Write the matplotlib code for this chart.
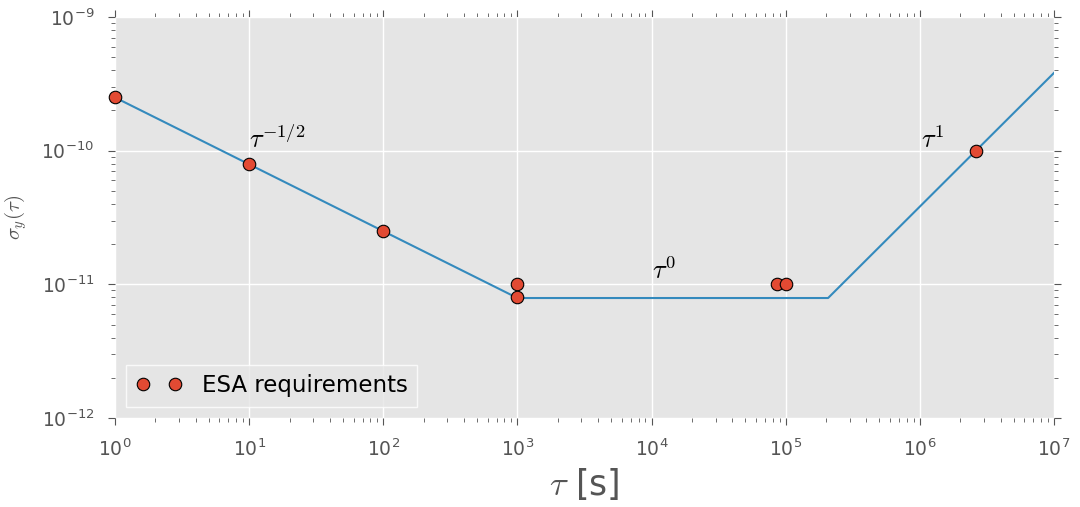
import numpy as np
import matplotlib
matplotlib.use("Agg")
import matplotlib.pyplot as plt

# ESA requirement points
req_tau = [1, 10, 100, 1000, 1000, 86400, 1e5, 2.6e6]
req_sigma = [2.5e-10, 8e-11, 2.5e-11, 1e-11, 8e-12, 1e-11, 1e-11, 1e-10]

# piecewise power-law envelope
line_tau = [1, 1000, 2.07e5, 1e7]
line_sigma = [2.5e-10, 7.9e-12, 7.9e-12, 3.82e-10]

plt.style.use('ggplot')
plt.rcParams['axes.facecolor'] = '#E5E5E5'
plt.rcParams['mathtext.fontset'] = 'cm'
plt.rcParams['axes.unicode_minus'] = False

fig = plt.figure(figsize=(10.8, 5.07), dpi=100)
ax = fig.add_axes([115 / 1080, 1 - 418 / 507, (1054 - 115) / 1080, (418 - 17) / 507])

ax.loglog(line_tau, line_sigma, color='#348ABD', lw=1.5)
ax.plot(req_tau, req_sigma, 'o', color='#E24A33', mec='black', mew=0.8,
        ms=9, label='ESA requirements', clip_on=False, zorder=5)

ax.set_xlim(1, 1e7)
ax.set_ylim(1e-12, 1e-9)

ax.text(10, 1.05e-10, r'$\tau^{-1/2}$', fontsize=19)
ax.text(1e4, 1.1e-11, r'$\tau^{0}$', fontsize=19)
ax.text(1.02e6, 1.05e-10, r'$\tau^{1}$', fontsize=19)

ax.set_xlabel(r'$\tau$ [s]', fontsize=25, color='#555555', labelpad=4)
ax.set_ylabel(r'$\sigma_y(\tau)$', fontsize=15, color='#555555', labelpad=9)

ax.grid(True, which='major', color='white', lw=1)
ax.set_axisbelow(True)
for s in ax.spines.values():
    s.set_visible(False)
ax.tick_params(which='both', direction='out', top=True, right=True,
               color='#555555', labelcolor='#555555', labelsize=13.5)
ax.tick_params(which='major', length=5, pad=10)
ax.tick_params(which='minor', length=3)

leg = ax.legend(loc='lower left', numpoints=2, fontsize=16.5, frameon=True,
                facecolor='#E5E5E5', edgecolor='white', fancybox=False,
                borderaxespad=0.5, handletextpad=0.9)
leg.get_frame().set_linewidth(1)

fig.savefig('out.png', dpi=100)
